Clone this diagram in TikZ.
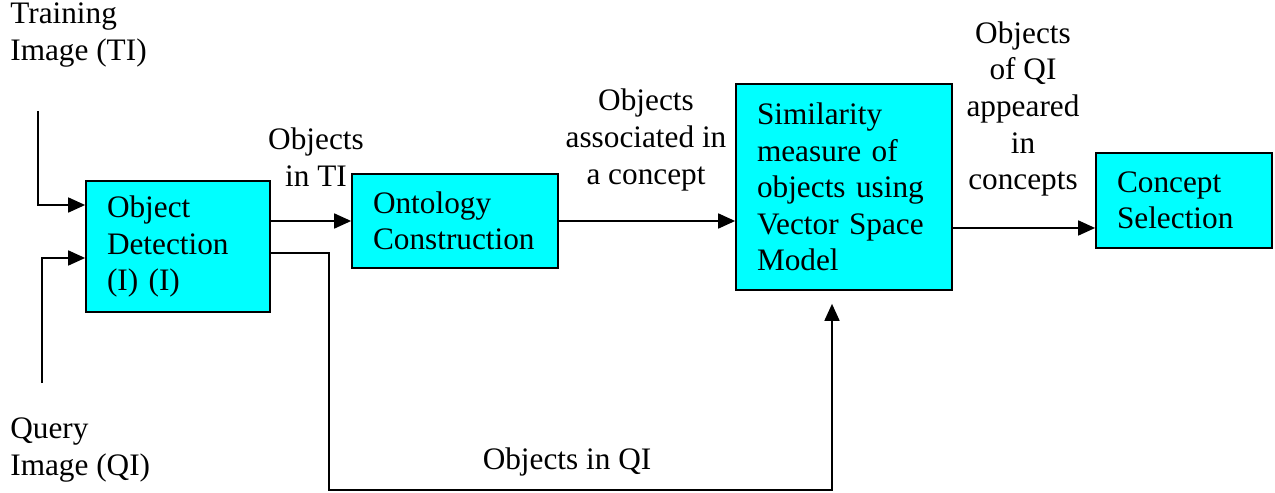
\documentclass[tikz,border=0pt]{standalone}
\usepackage{fontspec}
\setmainfont{Liberation Serif}
\usepackage{tikz}
\usetikzlibrary{arrows.meta,calc,positioning}
\definecolor{boxfill}{HTML}{00FFFF}
\tikzset{
  ProcBox/.style={
    draw=black, line width=1pt, fill=boxfill,
    inner xsep=0.42cm, align=left
  },
  Flow/.style={
    line width=1pt,
    -{Triangle[length=0.34cm,width=0.3cm]}
  },
  FlowLabel/.style={inner sep=0pt, align=center}
}

\begin{document}
\begin{tikzpicture}[x=0.02cm, y=-0.02cm, line cap=butt, line join=miter,
  font=\rmfamily\fontsize{17.8}{20.8}\selectfont]
  \useasboundingbox (0,0) rectangle (1275,493);

  % process boxes
  \node[ProcBox, text width=2.84cm, minimum height=2.62cm] (detect) at (178,246.5)
    {Object\\Detection\\(I) (I)};
  \node[ProcBox, text width=3.28cm, minimum height=1.88cm] (onto) at (455,221)
    {Ontology\\Construction};
  \node[ProcBox, text width=3.48cm, minimum height=4.12cm] (simil) at (844,187)
    {Similarity\\measure of\\objects using\\Vector Space\\Model};
  \node[ProcBox, text width=2.68cm, minimum height=1.9cm] (concept) at (1184,200.5)
    {Concept\\Selection};

  % inputs
  \coordinate (tiin) at (38,111);
  \coordinate (qiin) at (42,383);
  \coordinate (qturn) at (329,490);

  \draw[Flow] (tiin) |- ([yshift=0.83cm]detect.west);
  \draw[Flow] (qiin) |- ([yshift=-0.23cm]detect.west);
  \draw[Flow] ([yshift=0.51cm]detect.east) -- (onto.west);
  \draw[Flow] (onto.east) -- (onto.east -| simil.west);
  \draw[Flow] ([yshift=-0.82cm]simil.east) -- ([yshift=-0.82cm]simil.east -| concept.west);
  \draw[Flow, shorten >=0.26cm] ([yshift=-0.13cm]detect.east) -| (qturn)
    -| ([xshift=-0.24cm]simil.south);

  % labels
  \node[FlowLabel, anchor=west, align=left] (tilbl) at (10,35) {Training\\Image (TI)};
  \node[FlowLabel, anchor=west, align=left] (qilbl) at (10,450) {Query\\Image (QI)};
  \node[FlowLabel] (objti) at (316,157) {Objects\\in TI};
  \node[FlowLabel] (objcon) at (646,140) {Objects\\associated in\\a concept};
  \node[FlowLabel] (objqi) at (1023,109) {Objects\\of QI\\appeared\\in\\concepts};
  \node[FlowLabel] (objin) at (567,462) {Objects in QI};
\end{tikzpicture}
\end{document}
